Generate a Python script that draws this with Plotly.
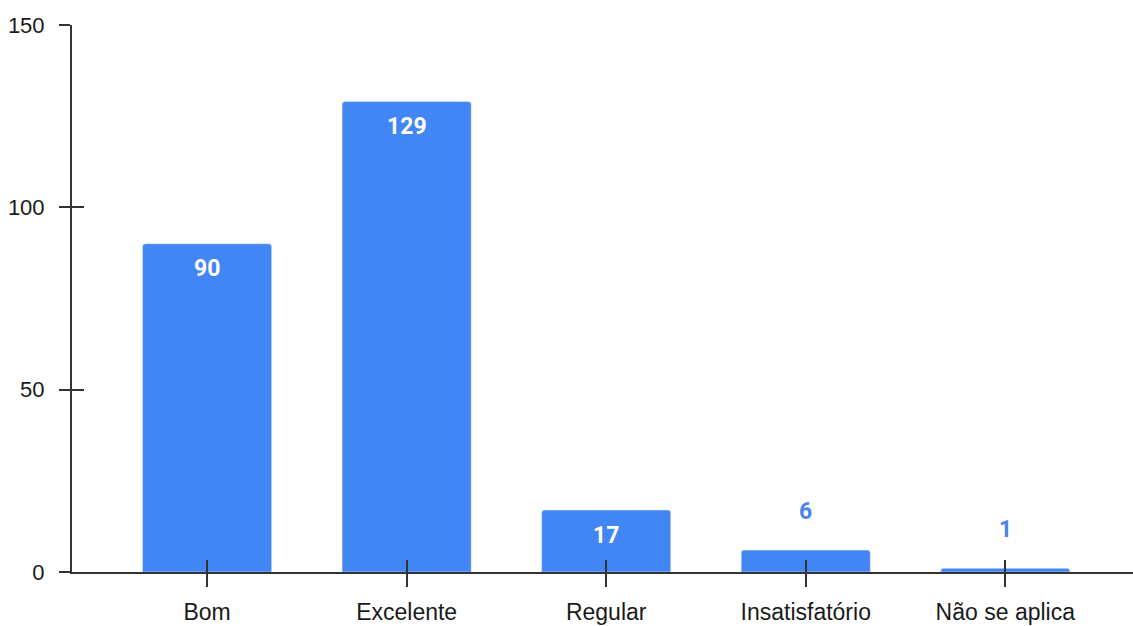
import plotly.graph_objects as go

categories = ["Bom", "Excelente", "Regular", "Insatisfatório", "Não se aplica"]
values = [90, 129, 17, 6, 1]
y_ticks = [0, 50, 100, 150]

BAR = "#4285F4"
AX = "#333333"

fig = go.Figure()
fig.add_trace(go.Bar(
    x=categories, y=values, marker=dict(color=BAR, cornerradius=3),
    width=0.647, hoverinfo="skip", showlegend=False,
))
# helper trace for inside ticks (cross-style ticks)
fig.add_trace(go.Scatter(x=[None], y=[None], xaxis="x2", yaxis="y2",
                         showlegend=False, hoverinfo="skip"))

xr = [-0.677, 4.64]
annotations = []
for c, v in zip(categories, values):
    inside = v > 10
    annotations.append(dict(
        x=c, y=v, xref="x", yref="y", text=f"<b>{v}</b>", showarrow=False,
        yanchor="middle", yshift=-25 if inside else 39,
        font=dict(family="Roboto, Liberation Sans, Arial", size=23,
                  color="white" if inside else "#4a86e8"),
    ))

fig.update_layout(
    width=1133, height=626,
    margin=dict(l=72, r=0, t=25, b=54, autoexpand=False),
    paper_bgcolor="white", plot_bgcolor="white",
    font=dict(family="Liberation Sans, Arial", color="#222222"),
    annotations=annotations,
    xaxis=dict(type="category", range=xr, showline=True, linecolor=AX, linewidth=2,
               ticks="outside", ticklen=13, tickwidth=2, tickcolor=AX,
               ticklabelstandoff=5, automargin=False,
               tickfont=dict(size=23, color="#1a1a1a"), showgrid=False,
               zeroline=False, fixedrange=True),
    yaxis=dict(range=[0, 150], tickvals=y_ticks, showline=True, linecolor=AX,
               linewidth=2, ticks="outside", ticklen=11, tickwidth=2, tickcolor=AX,
               ticklabelstandoff=10, automargin=False,
               tickfont=dict(size=22, color="#1a1a1a"), showgrid=False,
               zeroline=False, fixedrange=True),
    xaxis2=dict(overlaying="x", range=xr, tickvals=list(range(len(categories))),
                ticks="inside", ticklen=12, tickwidth=2, tickcolor=AX,
                showticklabels=False, showline=False, showgrid=False, automargin=False,
                zeroline=False, side="bottom", anchor="y2", fixedrange=True),
    yaxis2=dict(overlaying="y", range=[0, 150], tickvals=y_ticks,
                ticks="inside", ticklen=12, tickwidth=2, tickcolor=AX,
                showticklabels=False, showline=False, showgrid=False, automargin=False,
                zeroline=False, side="left", anchor="x2", fixedrange=True),
)

fig.write_html("out.html", config={"displayModeBar": False},
               post_script="document.body.style.margin='0';document.body.style.overflow='hidden';")
